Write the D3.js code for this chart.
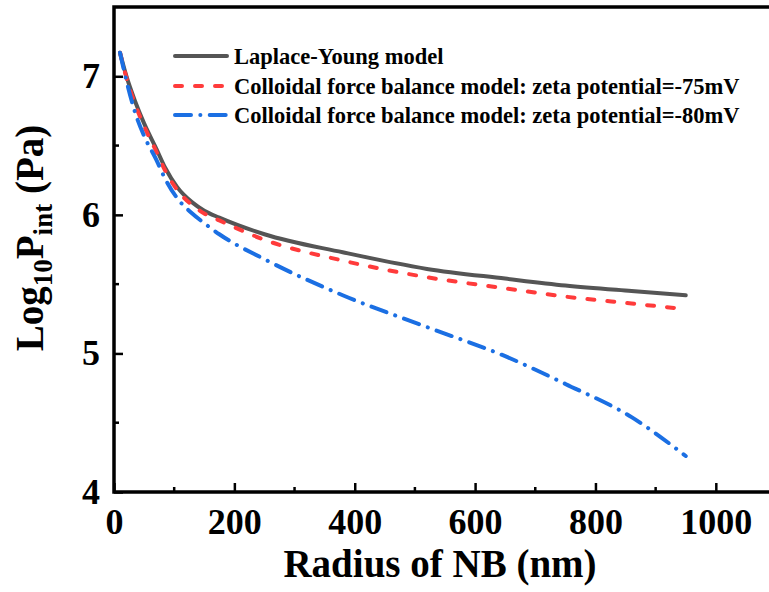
<!DOCTYPE html>
<html>
<head>
<meta charset="utf-8">
<script src="https://cdn.jsdelivr.net/npm/d3@7"></script>
<style>
  html, body { margin: 0; padding: 0; background: #fff; }
  svg { display: block; font-family: "Liberation Serif", "Times New Roman", serif; font-weight: bold; }
</style>
</head>
<body>
<svg id="chart" width="769" height="592"></svg>
<script>
// Radius of NB (nm), shared by all three series
const radius = [10, 20, 35, 50, 70, 85, 105, 130, 150, 175, 250, 380, 520, 650, 750, 860, 950]

// Log10 P_int (Pa)
const laplaceYoung = [7.17, 7.01, 6.82, 6.66, 6.48, 6.34, 6.20, 6.09, 6.03, 5.98, 5.86, 5.73, 5.61, 5.54, 5.49, 5.45, 5.42]
const zeta75 = [7.17, 7.00, 6.80, 6.64, 6.46, 6.32, 6.18, 6.07, 6.01, 5.96, 5.82, 5.67, 5.55, 5.47, 5.41, 5.36, 5.32]
const zeta80 = [7.17, 6.98, 6.74, 6.57, 6.40, 6.26, 6.12, 6.01, 5.94, 5.86, 5.68, 5.42, 5.19, 4.98, 4.78, 4.54, 4.26]

const seriesNames = [
  "Laplace-Young model",
  "Colloidal force balance model: zeta potential=-75mV",
  "Colloidal force balance model: zeta potential=-80mV"
]

const xTicks = [0, 200, 400, 600, 800, 1000]
const xMinor = [100, 300, 500, 700, 900]
const yTicks = [4, 5, 6, 7]
const yMinor = [4.5, 5.5, 6.5]

// Frame geometry
const PLOT = { left: 114, right: 776, top: 7, bottom: 492 }

const svg = d3.select("#chart")

const x = d3.scaleLinear().domain([0, 1100]).range([PLOT.left, PLOT.right])
const y = d3.scaleLinear().domain([4, 7.5]).range([PLOT.bottom, PLOT.top])

const styles = [
  { color: "#555555", dash: null },
  { color: "#ff3b3b", dash: "7,13" },
  { color: "#1b6fe3", dash: "16,9.3,0.1,9.3" }
]

const seriesValues = [laplaceYoung, zeta75, zeta80]

const line = d3.line()
  .x((d) => x(d[0]))
  .y((d) => y(d[1]))
  .curve(d3.curveMonotoneX)

// curves
const curves = svg.append("g")
seriesValues.forEach((vals, i) => {
  const pts = radius.map((r, k) => [r, vals[k]])
  curves.append("path")
    .datum(pts)
    .attr("d", line)
    .attr("fill", "none")
    .attr("stroke", styles[i].color)
    .attr("stroke-width", 4)
    .attr("stroke-linecap", "round")
    .attr("stroke-linejoin", "round")
    .attr("stroke-dasharray", styles[i].dash)
})

// axes, ticks pointing inward
const xAxis = svg.append("g")
  .attr("transform", `translate(0,${PLOT.bottom})`)
  .call(d3.axisBottom(x).tickValues(xTicks).tickSize(-9).tickPadding(16).tickFormat(d3.format("d")))
xAxis.select(".domain").remove()
xAxis.selectAll(".tick line").attr("stroke", "#000").attr("stroke-width", 2.5)
xAxis.selectAll(".tick text")
  .attr("font-family", "Liberation Serif, Times New Roman, serif")
  .attr("font-weight", "bold")
  .attr("font-size", 36)
  .attr("fill", "#000")
xAxis.selectAll(".minor")
  .data(xMinor).enter().append("line")
  .attr("x1", (d) => x(d)).attr("x2", (d) => x(d))
  .attr("y1", 0).attr("y2", -5)
  .attr("stroke", "#000").attr("stroke-width", 2.5)

const yAxis = svg.append("g")
  .attr("transform", `translate(${PLOT.left},0)`)
  .call(d3.axisLeft(y).tickValues(yTicks).tickSize(-9).tickPadding(14).tickFormat(d3.format("d")))
yAxis.select(".domain").remove()
yAxis.selectAll(".tick line").attr("stroke", "#000").attr("stroke-width", 2.5)
yAxis.selectAll(".tick text")
  .attr("font-family", "Liberation Serif, Times New Roman, serif")
  .attr("font-weight", "bold")
  .attr("font-size", 36)
  .attr("fill", "#000")
yAxis.selectAll(".minor")
  .data(yMinor).enter().append("line")
  .attr("x1", 0).attr("x2", 5)
  .attr("y1", (d) => y(d)).attr("y2", (d) => y(d))
  .attr("stroke", "#000").attr("stroke-width", 2.5)

// frame (right side falls outside the picture)
svg.append("path")
  .attr("d", `M${PLOT.right},${PLOT.top} H${PLOT.left} V${PLOT.bottom} H${PLOT.right}`)
  .attr("fill", "none")
  .attr("stroke", "#000")
  .attr("stroke-width", 3.5)
  .attr("stroke-linecap", "square")

// axis titles
svg.append("text")
  .attr("x", 440)
  .attr("y", 577)
  .attr("text-anchor", "middle")
  .attr("font-size", 39)
  .text("Radius of NB (nm)")

const yTitle = svg.append("text")
  .attr("transform", "translate(43,238) rotate(-90)")
  .attr("text-anchor", "middle")
  .attr("font-size", 39)
yTitle.append("tspan").text("Log")
yTitle.append("tspan").attr("font-size", 27).attr("dy", 9).text("10")
yTitle.append("tspan").attr("dy", -9).text("P")
yTitle.append("tspan").attr("font-size", 27).attr("dy", 9).text("int")
yTitle.append("tspan").attr("dy", -9).text("\u00a0(Pa)")

// legend
const legend = svg.append("g")
const rowY = [56, 86, 115]
seriesNames.forEach((name, i) => {
  const g = legend.append("g").attr("transform", `translate(0,${rowY[i]})`)
  g.append("line")
    .attr("x1", 175).attr("x2", 227)
    .attr("y1", 0).attr("y2", 0)
    .attr("stroke", styles[i].color)
    .attr("stroke-width", 4)
    .attr("stroke-linecap", "round")
    .attr("stroke-dasharray", styles[i].dash)
  g.append("text")
    .attr("x", 234)
    .attr("y", 8)
    .attr("font-size", 22.5)
    .text(name)
})
</script>
</body>
</html>
